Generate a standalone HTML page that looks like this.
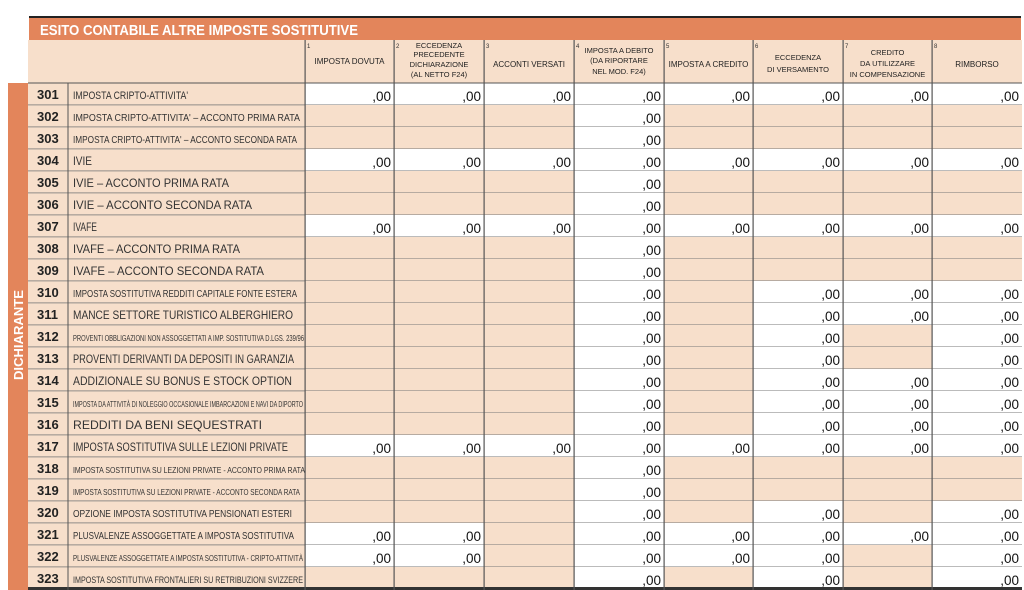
<!DOCTYPE html>
<html><head><meta charset="utf-8"><style>
html,body{margin:0;padding:0;background:#fff;width:1024px;height:590px;overflow:hidden}
svg{display:block}
</style></head><body>
<svg id="s" width="1024" height="590" xmlns="http://www.w3.org/2000/svg" font-family="'Liberation Sans', sans-serif"></svg>
<script>
const S=document.getElementById('s');
let h='';
const peach='#F7DFCB', org='#E3855B', line='#555';
const cols=[305,394,484,574,664,753,843,932,1022];
h+=`<rect x="29" y="16" width="992" height="2" fill="#222"/>`;
h+=`<rect x="29" y="18" width="992" height="22" fill="${org}"/>`;
h+=`<text x="40" y="35" font-size="15" font-weight="bold" fill="#fff" textLength="318" lengthAdjust="spacingAndGlyphs">ESITO CONTABILE ALTRE IMPOSTE SOSTITUTIVE</text>`;
h+=`<rect x="28" y="40" width="994" height="43" fill="${peach}"/>`;
h+=`<rect x="8" y="83" width="20" height="507" fill="${org}"/>`;
h+=`<rect x="28" y="83" width="277" height="507" fill="${peach}"/>`;
h+=`<text transform="translate(23,380) rotate(-90)" font-size="13" font-weight="bold" fill="#fff" textLength="90" lengthAdjust="spacingAndGlyphs">DICHIARANTE</text>`;
const hdr=[
 [['IMPOSTA DOVUTA',64]],
 [['ECCEDENZA',48],['PRECEDENTE',57],['DICHIARAZIONE',67],['(AL NETTO F24)',77]],
 [['ACCONTI VERSATI',67]],
 [['IMPOSTA A DEBITO',53],['(DA RIPORTARE',63],['NEL MOD. F24)',74]],
 [['IMPOSTA A CREDITO',67]],
 [['ECCEDENZA',60],['DI VERSAMENTO',72]],
 [['CREDITO',55],['DA UTILIZZARE',66],['IN COMPENSAZIONE',77]],
 [['RIMBORSO',67]]];
for(let c=0;c<8;c++){
  const cx=(cols[c]+cols[c+1])/2;
  h+=`<text x="${cols[c]+2}" y="48" font-size="6" fill="#333">${c+1}</text>`;
  hdr[c].forEach(([t,y])=>{h+=`<text x="${cx}" y="${y}" font-size="${hdr[c].length>1?7.5:8}" fill="#222" text-anchor="middle">${t}</text>`;});
}
const rows=[
['301',"IMPOSTA CRIPTO-ATTIVITA'",188,'11111111',11],
['302',"IMPOSTA CRIPTO-ATTIVITA' – ACCONTO PRIMA RATA",300,'00010000',10.5],
['303',"IMPOSTA CRIPTO-ATTIVITA' – ACCONTO SECONDA RATA",297,'00010000',10.5],
['304','IVIE',92,'11111111',11.5],
['305','IVIE – ACCONTO PRIMA RATA',229,'00010000',11.5],
['306','IVIE – ACCONTO SECONDA RATA',252,'00010000',11.5],
['307','IVAFE',97,'11111111',11.5],
['308','IVAFE – ACCONTO PRIMA RATA',240,'00010000',11.5],
['309','IVAFE – ACCONTO SECONDA RATA',264,'00010000',11.5],
['310','IMPOSTA SOSTITUTIVA REDDITI CAPITALE FONTE ESTERA',297,'00010111',10.5],
['311','MANCE SETTORE TURISTICO ALBERGHIERO',293,'00010111',11.5],
['312','PROVENTI OBBLIGAZIONI NON ASSOGGETTATI A IMP. SOSTITUTIVA D.LGS. 239/96',304,'00010101',8.5],
['313','PROVENTI DERIVANTI DA DEPOSITI IN GARANZIA',294,'00010101',11.5],
['314','ADDIZIONALE SU BONUS E STOCK OPTION',292,'00010111',11.5],
['315','IMPOSTA DA ATTIVITÀ DI NOLEGGIO OCCASIONALE IMBARCAZIONI E NAVI DA DIPORTO',303,'00010111',8.5],
['316','REDDITI DA BENI SEQUESTRATI',262,'00010111',11.5],
['317','IMPOSTA SOSTITUTIVA SULLE LEZIONI PRIVATE',288,'11111111',11.5],
['318','IMPOSTA SOSTITUTIVA SU LEZIONI PRIVATE - ACCONTO PRIMA RATA',305,'00010000',8.5],
['319','IMPOSTA SOSTITUTIVA SU LEZIONI PRIVATE - ACCONTO SECONDA RATA',300,'00010000',8.5],
['320','OPZIONE IMPOSTA SOSTITUTIVA PENSIONATI ESTERI',292,'00010101',10.5],
['321','PLUSVALENZE ASSOGGETTATE A IMPOSTA SOSTITUTIVA',294,'11011111',10.5],
['322','PLUSVALENZE ASSOGGETTATE A IMPOSTA SOSTITUTIVA - CRIPTO-ATTIVITÀ',303,'11011101',8.5],
['323','IMPOSTA SOSTITUTIVA FRONTALIERI SU RETRIBUZIONI SVIZZERE',303,'00010101',9.5]];
rows.forEach((r,i)=>{
  const y=83+i*22;
  for(let c=0;c<8;c++){
    const w=r[3][c]==='1';
    h+=`<rect x="${cols[c]}" y="${y}" width="${cols[c+1]-cols[c]}" height="22" fill="${w?'#fff':peach}"/>`;
    if(w) h+=`<text x="${cols[c+1]-3}" y="${y+18}" font-size="13.5" fill="#111" text-anchor="end">,00</text>`;
  }
  h+=`<text x="37" y="${y+16}" font-size="13" font-weight="bold" fill="#222">${r[0]}</text>`;
  h+=`<text x="73" y="${y+16}" font-size="${r[4]}" fill="#333" textLength="${r[2]-73}" lengthAdjust="spacingAndGlyphs">${r[1]}</text>`;
  h+=`<rect x="28" y="${y+21.5}" width="994" height="0.8" fill="#777"/>`;
});
h+=`<rect x="28" y="82.5" width="994" height="1" fill="#555"/>`;
h+=`<rect x="28" y="587" width="994" height="3" fill="#333"/>`;
h+=`<rect x="67.5" y="83" width="1" height="507" fill="${line}"/>`;
cols.forEach((x,i)=>{ if(i<8) h+=`<rect x="${x-0.5}" y="40" width="1.2" height="550" fill="${line}"/>`; });
S.innerHTML=h;
</script>
</body></html>
